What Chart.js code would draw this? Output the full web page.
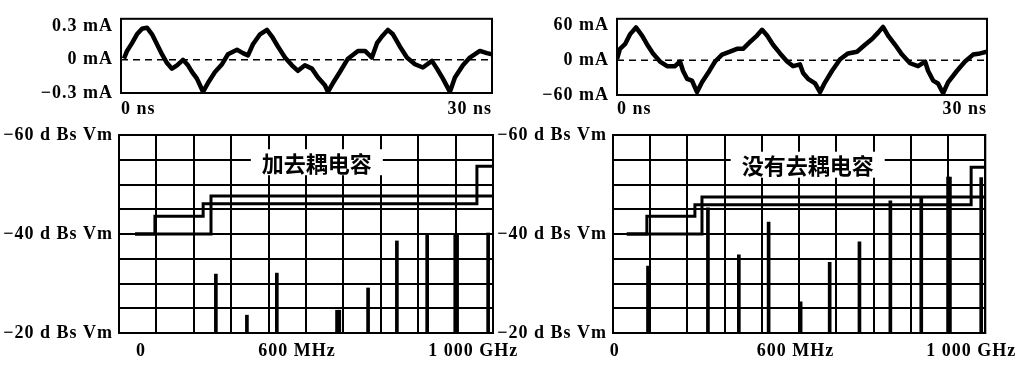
<!DOCTYPE html>
<html>
<head>
<meta charset="utf-8">
<script src="https://cdn.jsdelivr.net/npm/chart.js@4.4.1/dist/chart.umd.min.js"></script>
<style>
    html, body { margin: 0; padding: 0; background: #fff; }
    body { width: 1021px; height: 366px; position: relative; overflow: hidden; }
    .box { position: absolute; }
    .box canvas { display: block; }
</style>
</head>
<body>
<div class="box" style="left:0;top:118px;width:530px;height:248px"><canvas id="specLeft"></canvas></div>
<div class="box" style="left:490px;top:118px;width:531px;height:248px"><canvas id="specRight"></canvas></div>
<div class="box" style="left:0;top:0;width:530px;height:125px"><canvas id="waveLeft"></canvas></div>
<div class="box" style="left:490px;top:0;width:531px;height:125px"><canvas id="waveRight"></canvas></div>

<script>
// time-domain current, left (with decoupling cap), ns / mA
const waveTimeLeft = [0.24, 0.49, 0.89, 1.29, 1.70, 2.10, 2.51, 2.91, 3.31, 3.72, 4.12, 4.53, 5.01, 5.42, 5.74,
    6.14, 6.39, 6.63, 7.03, 7.60, 8.17, 8.65, 9.38, 9.86, 10.27, 10.67, 11.24, 11.80, 12.21, 12.69, 13.26,
    13.82, 14.31, 14.87, 15.44, 15.93, 16.49, 16.73, 17.14, 17.70, 18.35, 19.16, 19.73, 20.29, 20.70, 21.10,
    21.58, 21.99, 22.55, 23.12, 23.77, 24.41, 25.14, 25.55, 26.03, 26.60, 27.00, 27.65, 28.21, 29.02, 29.59, 30];
const waveCurrentLeft = [0.01, 0.08, 0.15, 0.23, 0.28, 0.29, 0.23, 0.14, 0.05, -0.03, -0.08, -0.05, 0, -0.05, -0.11,
    -0.17, -0.23, -0.29, -0.21, -0.11, -0.04, 0.05, 0.09, 0.06, 0.04, 0.14, 0.23, 0.27, 0.21, 0.12, 0.02,
    -0.05, -0.10, -0.05, -0.08, -0.16, -0.23, -0.29, -0.21, -0.11, 0.01, 0.08, 0.08, 0.02, 0.15, 0.21,
    0.27, 0.23, 0.12, 0.02, -0.04, -0.07, -0.01, -0.08, -0.17, -0.29, -0.16, -0.05, 0.02, 0.08, 0.06, 0.05];
const waveTicksLeft = [-0.3, 0, 0.3];

// time-domain current, right (no decoupling cap)
const waveTimeRight = [0, 0.24, 0.65, 1.05, 1.54, 2.03, 2.43, 2.92, 3.49, 4.06, 4.70, 5.11, 5.35, 5.68, 6.08,
    6.49, 6.89, 7.38, 7.95, 8.52, 9.16, 9.73, 10.22, 10.79, 11.35, 11.76, 12.17, 12.65, 13.22, 13.79, 14.28,
    14.84, 15.09, 15.49, 16.06, 16.46, 16.87, 17.44, 18.09, 18.73, 19.46, 20.11, 20.68, 21.17, 21.57, 21.98,
    22.55, 23.11, 23.76, 24.41, 24.98, 25.22, 25.63, 26.03, 26.44, 26.84, 27.57, 28.22, 28.87, 29.44, 30];
const waveCurrentRight = [2, 20, 28, 45, 57, 43, 28, 12, -2, -10, -10, -2, -18, -32, -35,
    -55, -38, -22, -2, 10, 15, 20, 20, 32, 43, 53, 43, 27, 12, -2, -10,
    -7, -22, -32, -40, -55, -38, -18, 2, 12, 15, 27, 37, 48, 58, 43,
    27, 10, -5, -10, -2, -18, -35, -40, -57, -38, -18, -2, 10, 12, 15];
const waveTicksRight = [-60, 0, 60];

// spectrum limit lines (MHz / level)
const limitHiFreqLeft = [43, 96, 225, 957, 1000];
const limitHiLevelLeft = [-40, -43.6, -46.1, -53.7, -53.7];
const limitLoFreqLeft = [43, 246, 1000];
const limitLoLevelLeft = [-40, -47.7, -47.7];

const limitHiFreqRight = [37, 91, 220, 962, 1000];
const limitHiLevelRight = [-40, -43.6, -45.9, -53.5, -53.5];
const limitLoFreqRight = [37, 239, 1000];
const limitLoLevelRight = [-40, -47.5, -47.5];

// spectral lines
const lineFreqLeft = [259, 342, 422, 583, 589, 666, 743, 824, 899, 904, 987];
const lineLevelLeft = [-31.9, -23.6, -32.1, -24.6, -24.6, -29.1, -38.6, -40.0, -39.8, -39.8, -40.2];
const lineFreqRight = [94, 255, 338, 418, 504, 582, 662, 745, 828, 900, 905, 989];
const lineLevelRight = [-33.5, -45.3, -35.8, -42.4, -26.3, -34.3, -38.4, -46.7, -47.3, -51.5, -51.5, -51.4];

const freqTickLabels = ['0', '600 MHz', '1 000 GHz'];
const freqTickAtLeft = [59, 476, 947];
const freqTickAtRight = [5, 490, 962];

const tickFont = { family: "'Liberation Serif', 'Times New Roman', serif", size: 18, weight: 'bold' };

function signed(v) {
    return (v < 0 ? '\u2212' : '') + Math.abs(v);
}

function toPoints(xs, ys) {
    return xs.map((x, i) => ({ x: x, y: ys[i] }));
}

const framePlugin = {
    id: 'frame',
    beforeDraw(chart) {
        chart.ctx.letterSpacing = '1px';
    },
    afterDraw(chart) {
        const { ctx, chartArea: a } = chart;
        ctx.save();
        ctx.strokeStyle = '#000';
        ctx.lineWidth = 2;
        ctx.strokeRect(a.left, a.top, a.right - a.left, a.bottom - a.top);
        ctx.restore();
    }
};

const titlePlugin = {
    id: 'boxTitle',
    afterDatasetsDraw(chart, args, opts) {
        if (!opts || !opts.text) return;
        const { ctx, scales } = chart;
        const cx = scales.x.getPixelForValue(opts.x);
        const cy = scales.y.getPixelForValue(opts.y);
        ctx.save();
        ctx.letterSpacing = '0px';
        ctx.font = "bold 22px 'Noto Sans CJK SC'";
        const w = ctx.measureText(opts.text).width + 22;
        ctx.fillStyle = '#fff';
        ctx.fillRect(cx - w / 2, cy - 13, w, 26);
        ctx.fillStyle = '#000';
        ctx.textAlign = 'center';
        ctx.textBaseline = 'middle';
        ctx.fillText(opts.text, cx, cy + 1);
        ctx.restore();
    }
};

function waveChart(id, times, currents, yMin, yMax, yTicks, box) {
    new Chart(document.getElementById(id), {
        type: 'line',
        data: {
            datasets: [{
                data: toPoints(times, currents),
                borderColor: '#000',
                borderWidth: 4.5,
                borderJoinStyle: 'round',
                pointRadius: 0,
                tension: 0
            }, {
                data: [{ x: 0, y: 0 }, { x: 30, y: 0 }],
                borderColor: '#000',
                borderWidth: 1.5,
                borderDash: [7, 5],
                pointRadius: 0
            }]
        },
        options: {
            responsive: true,
            maintainAspectRatio: false,
            animation: false,
            layout: { padding: { top: box.top, right: box.right, left: 0, bottom: 0 } },
            plugins: { legend: { display: false }, tooltip: { enabled: false } },
            scales: {
                x: {
                    type: 'linear', min: 0, max: 30,
                    grid: { display: false, drawTicks: false },
                    border: { display: false },
                    afterBuildTicks: s => { s.ticks = [{ value: 0 }, { value: 30 }]; },
                    afterFit: s => { s.height = box.bottom; },
                    ticks: {
                        align: 'inner', maxRotation: 0, autoSkip: false,
                        padding: box.xPad, color: '#000', font: tickFont,
                        callback: v => v + ' ns'
                    }
                },
                y: {
                    type: 'linear', min: yMin, max: yMax,
                    grid: { display: false, drawTicks: false },
                    border: { display: false },
                    afterBuildTicks: s => { s.ticks = yTicks.map(v => ({ value: v })); },
                    afterFit: s => { s.width = box.left; },
                    ticks: {
                        padding: 8, color: '#000', font: tickFont,
                        callback: v => signed(v) + ' mA'
                    }
                }
            }
        },
        plugins: [framePlugin]
    });
}

function spectrumChart(id, hiF, hiL, loF, loL, lineF, lineL, tickAt, title, titleAt, box) {
    new Chart(document.getElementById(id), {
        type: 'line',
        data: {
            datasets: [{
                data: toPoints(hiF, hiL),
                stepped: true,
                borderColor: '#000',
                borderWidth: 3,
                pointRadius: 0
            }, {
                data: toPoints(loF, loL),
                stepped: true,
                borderColor: '#000',
                borderWidth: 3,
                pointRadius: 0
            }, {
                type: 'bar',
                data: lineF.map((f, i) => ({ x: f, y: [-20, lineL[i]] })),
                backgroundColor: '#000',
                barThickness: 3,
                grouped: false
            }]
        },
        options: {
            responsive: true,
            maintainAspectRatio: false,
            animation: false,
            layout: { padding: { top: box.top, right: box.right, left: 0, bottom: 0 } },
            plugins: {
                legend: { display: false },
                tooltip: { enabled: false },
                boxTitle: { text: title, x: titleAt[0], y: titleAt[1] }
            },
            scales: {
                x: {
                    type: 'linear', min: 0, max: 1000, offset: false,
                    grid: { color: '#000', lineWidth: 2, drawTicks: false, offset: false },
                    border: { display: false },
                    ticks: { display: false, stepSize: 100 },
                    afterFit: s => { s.height = 0; }
                },
                xl: {
                    type: 'linear', position: 'bottom', min: 0, max: 1000,
                    grid: { display: false, drawTicks: false },
                    border: { display: false },
                    afterBuildTicks: s => { s.ticks = tickAt.map(v => ({ value: v })); },
                    afterFit: s => { s.height = box.bottom; },
                    ticks: {
                        maxRotation: 0, autoSkip: false, padding: 8,
                        color: '#000', font: tickFont,
                        callback: (v, i) => freqTickLabels[i]
                    }
                },
                y: {
                    type: 'linear', reverse: true, min: -60, max: -20, beginAtZero: false,
                    grid: { color: '#000', lineWidth: 2, drawTicks: false },
                    border: { display: false },
                    afterFit: s => { s.width = box.left; },
                    ticks: {
                        stepSize: 5, padding: 6, color: '#000', font: tickFont,
                        callback: v => (v % 20 === 0 ? signed(v) + ' d Bs Vm' : '')
                    }
                }
            }
        },
        plugins: [framePlugin, titlePlugin]
    });
}

waveChart('waveLeft', waveTimeLeft, waveCurrentLeft, -0.3, 0.37, waveTicksLeft,
    { left: 121, right: 38, top: 17, bottom: 32, xPad: 6 });
waveChart('waveRight', waveTimeRight, waveCurrentRight, -60, 72, waveTicksRight,
    { left: 127, right: 34, top: 16, bottom: 30, xPad: 4 });

spectrumChart('specLeft', limitHiFreqLeft, limitHiLevelLeft, limitLoFreqLeft, limitLoLevelLeft,
    lineFreqLeft, lineLevelLeft, freqTickAtLeft, '加去耦电容', [529, -54.5],
    { left: 119, right: 37, top: 17, bottom: 33 });
spectrumChart('specRight', limitHiFreqRight, limitHiLevelRight, limitLoFreqRight, limitLoLevelRight,
    lineFreqRight, lineLevelRight, freqTickAtRight, '没有去耦电容', [523, -54],
    { left: 123, right: 35, top: 17, bottom: 33 });
</script>
</body>
</html>
